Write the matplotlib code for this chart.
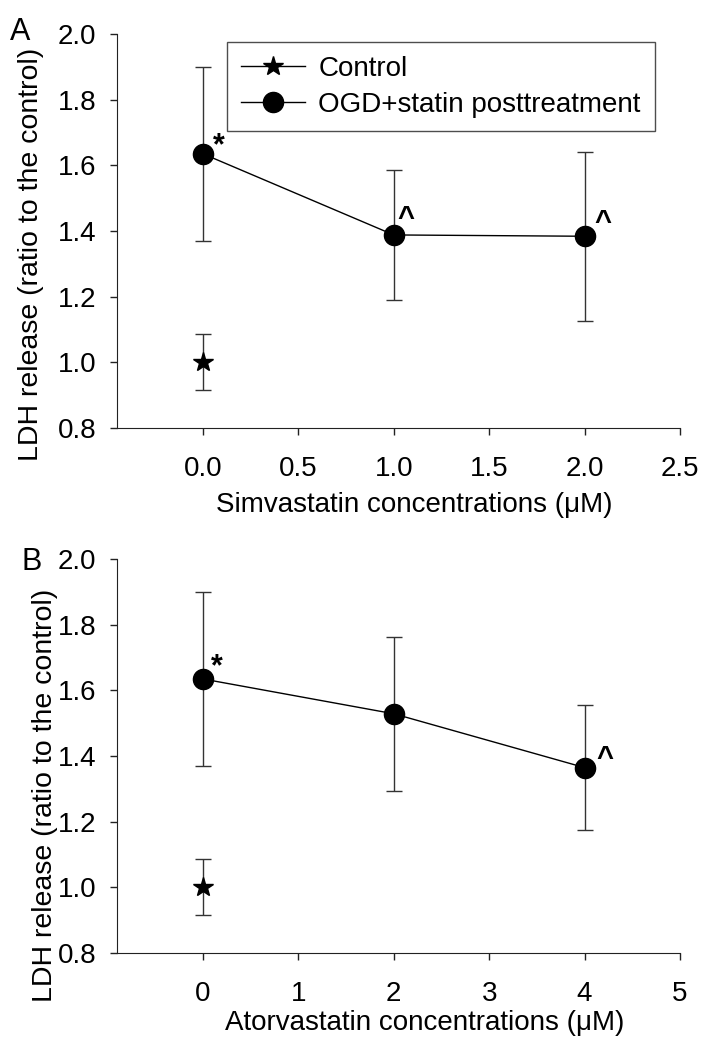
import numpy as np
import matplotlib
matplotlib.use("Agg")
import matplotlib.pyplot as plt
from matplotlib.lines import Line2D

# Parameters ------------------
simva_conc = [0.0, 1.0, 2.0]
simva_mean = [1.635, 1.388, 1.384]
simva_err = [0.265, 0.198, 0.258]
simva_marks = ["*", "^", "^"]

atorva_conc = [0, 2, 4]
atorva_mean = [1.635, 1.529, 1.365]
atorva_err = [0.265, 0.235, 0.19]
atorva_marks = ["*", "", "^"]

control_x = 0
control_mean = 1.0
control_err = 0.085

ylab = "LDH release (ratio to the control)"
legend_labels = ["Control", "OGD+statin posttreatment"]
# -----------------------------

plt.rcParams["font.family"] = ["Liberation Sans", "DejaVu Sans"]

fig = plt.figure(figsize=(7.08, 10.5), dpi=100)
axA = fig.add_axes([0.1653, 0.5924, 0.795, 0.3752])
axB = fig.add_axes([0.1653, 0.0924, 0.795, 0.375])


def draw(ax, conc, mean, err, marks, offsets, xlim, xticks, xticklabels, xlabel,
         ylab_pos, xlab_pos):
    ebar_kw = dict(ecolor="#333333", elinewidth=1.0, capsize=5.5, capthick=1.0)
    ax.errorbar([control_x], [control_mean], yerr=[control_err], fmt="*", color="black",
                markersize=15, zorder=3, **ebar_kw)
    ax.errorbar(conc, mean, yerr=err, fmt="-o", color="black", lw=1.0,
                markersize=14.5, zorder=3, **ebar_kw)
    for x, y, m, off in zip(conc, mean, marks, offsets):
        if m:
            ax.annotate(m, (x, y), xytext=off, textcoords="offset points",
                        fontsize=22 if m == "*" else 21, ha="center", va="baseline",
                        fontweight="bold")
    ax.set_xlim(*xlim)
    ax.set_ylim(0.8, 2.0)
    ax.set_xticks(xticks)
    ax.set_xticklabels(xticklabels)
    ax.set_yticks([0.8, 1.0, 1.2, 1.4, 1.6, 1.8, 2.0])
    ax.set_yticklabels(["0.8", "1.0", "1.2", "1.4", "1.6", "1.8", "2.0"])
    ax.spines["top"].set_visible(False)
    ax.spines["right"].set_visible(False)
    ax.spines["left"].set_color("#222222")
    ax.spines["bottom"].set_color("#222222")
    ax.tick_params(axis="both", direction="out", length=5, width=1.0, color="#222222",
                   labelsize=20)
    ax.tick_params(axis="x", pad=15)
    ax.tick_params(axis="y", pad=10)
    ax.set_xlabel(xlabel, fontsize=20)
    ax.xaxis.set_label_coords(*xlab_pos)
    ax.set_ylabel(ylab, fontsize=20.5)
    ax.yaxis.set_label_coords(*ylab_pos)
    ax.yaxis.label.set_va("center")


draw(axA, simva_conc, simva_mean, simva_err, simva_marks,
     [(11, 0), (8.6, 6.5), (13, 4.5)],
     (-0.451, 2.5), [0.0, 0.5, 1.0, 1.5, 2.0, 2.5],
     ["0.0", "0.5", "1.0", "1.5", "2.0", "2.5"],
     "Simvastatin concentrations (\u03bcM)", (-0.153, 0.44), (0.528, -0.163))
draw(axB, atorva_conc, atorva_mean, atorva_err, atorva_marks,
     [(10, 2.5), (0, 0), (14.4, 1.5)],
     (-0.902, 5.0), [0, 1, 2, 3, 4, 5],
     ["0", "1", "2", "3", "4", "5"],
     "Atorvastatin concentrations (\u03bcM)", (-0.128, 0.40), (0.546, -0.145))

handles = [
    Line2D([], [], color="black", lw=1.0, marker="*", markersize=15),
    Line2D([], [], color="black", lw=1.0, marker="o", markersize=14.5),
]
leg = axA.legend(handles, legend_labels, loc="upper left", bbox_to_anchor=(0.195, 0.98),
                 fontsize=20, frameon=True, fancybox=False, edgecolor="#222222",
                 handlelength=2.3, borderpad=0.5, labelspacing=0.35,
                 handletextpad=0.5, numpoints=1, borderaxespad=0)
leg.get_frame().set_linewidth(1.0)

fig.text(0.014, 0.970, "A", fontsize=22, va="center", ha="left")
fig.text(0.031, 0.465, "B", fontsize=22, va="center", ha="left")

plt.savefig("out.png", dpi=100)
